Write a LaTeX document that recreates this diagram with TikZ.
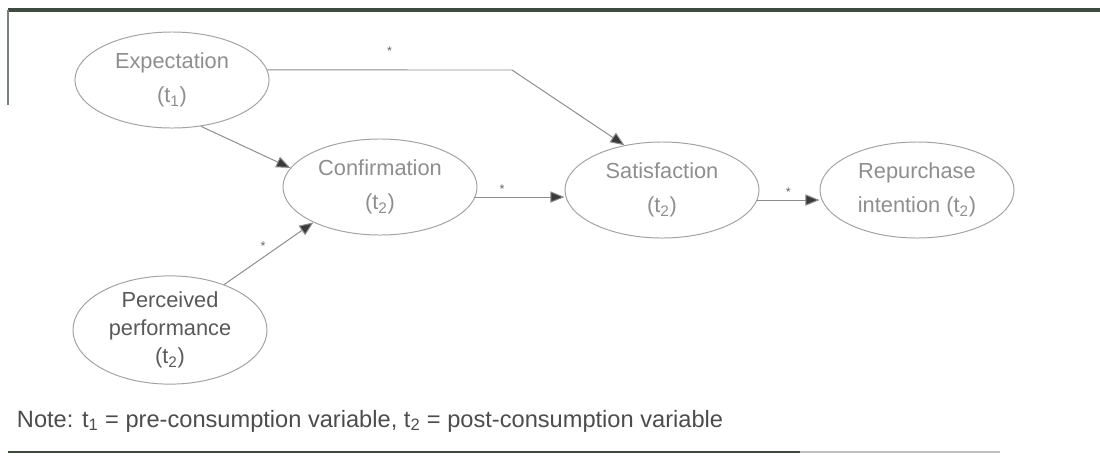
\documentclass[tikz,border=0pt]{standalone}
\usepackage{fontspec}
\setmainfont{Liberation Sans}
\usepackage{xcolor}
\usetikzlibrary{shapes.geometric, arrows.meta, positioning, calc}

\definecolor{frameGray}{HTML}{3E4A40}
\definecolor{ellGray}{HTML}{A2A2A2}
\definecolor{txtGray}{HTML}{8E8E8E}
\definecolor{lineGray}{HTML}{8C8C8C}
\definecolor{tipGray}{HTML}{3A3A3A}

\begin{document}
\begin{tikzpicture}[x=0.025cm, y=-0.025cm,
		var/.style={ellipse, draw=ellGray, line width=0.7pt, inner sep=0pt,
			minimum width=4.85cm, minimum height=2.4cm, align=center, text=txtGray,
			font=\fontsize{15.5}{24}\selectfont},
		link/.style={draw=lineGray, line width=0.7pt,
			-{Triangle[length=10pt, width=8pt, fill=tipGray]}},
		sig/.style={font=\small, text=black!60, inner sep=2pt}]
			\def\xMIN{0};
			\def\xMAX{1100};
			\def\yMIN{0};
			\def\yMAX{455};

			\useasboundingbox (\xMIN,\yMIN) rectangle (\xMAX,\yMAX);

			\begin{scope}[frameGray, line width=2.4pt]
				\draw (8,10) -- (\xMAX,10);
				\draw[line width=2pt] (8,452) -- (800,452);
				\draw[lightgray, line width=1.4pt] (800,452) -- (1000,452);
			\end{scope}
			\draw[frameGray!70, line width=0.8pt] (8,10) -- (8,105);

			\begin{scope}
				\node[var] (exp) at (172,80) {Expectation\\(t\textsubscript{1})};
				\node[var] (conf) at (380,187) {Confirmation\\(t\textsubscript{2})};
				\node[var] (sat) at (662,190) {Satisfaction\\(t\textsubscript{2})};
				\node[var] (rep) at (917,190) {Repurchase\\intention (t\textsubscript{2})};
				\node[var, text=black!65, font=\fontsize{15.5}{20}\selectfont] (perc) at (170,330)
					{Perceived\\performance\\(t\textsubscript{2})};
			\end{scope}

			\coordinate (kink) at (512,70);

			\begin{scope}
				\draw[link] (exp.6) -- node[sig, above=8pt] {*} (kink) -- (sat.130);
				\draw[link] (exp.-58) -- (conf.168);
				\draw[link] (perc.40) -- node[sig, above left] {*} (conf.208);
				\draw[link] (conf.-6) -- node[sig, above, pos=0.3] {*} (conf.-6 -| sat.west);
				\draw[link] (sat.-6) -- node[sig, above] {*} (sat.-6 -| rep.west);
			\end{scope}

			\node[anchor=base west, text=black!70, font=\fontsize{16.8}{20}\selectfont] (note) at (12,427)
				{Note: t\textsubscript{1} = pre-consumption variable, t\textsubscript{2} = post-consumption variable};
		\end{tikzpicture}
\end{document}
